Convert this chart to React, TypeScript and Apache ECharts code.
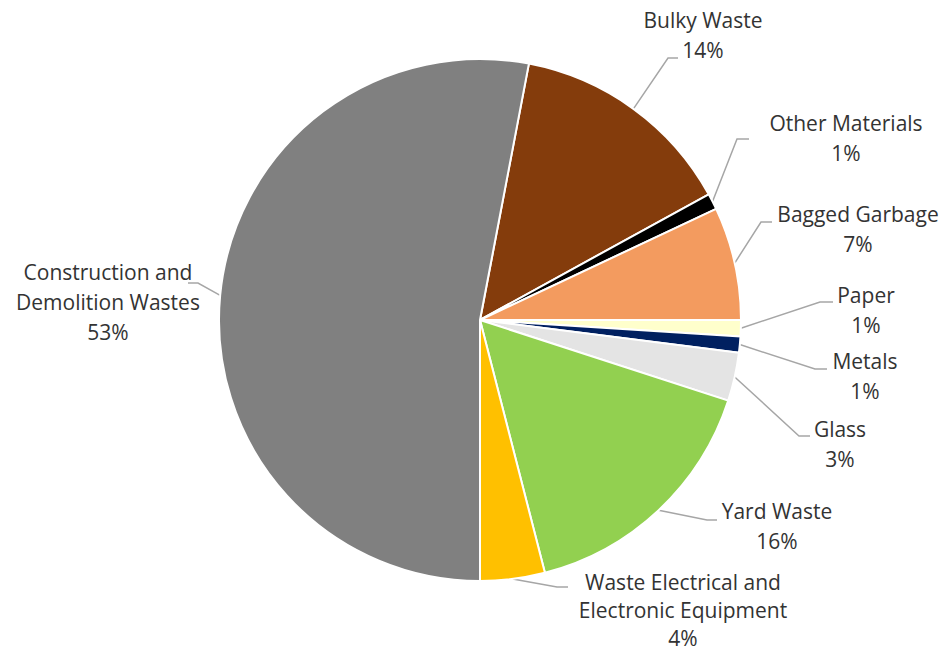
import React, { useEffect, useRef } from "react";
import * as echarts from "echarts";

// ---- Data ----
const categories = [
  "Bulky Waste",
  "Other Materials",
  "Bagged Garbage",
  "Paper",
  "Metals",
  "Glass",
  "Yard Waste",
  "Waste Electrical and Electronic Equipment",
  "Construction and Demolition Wastes",
];
const labelTexts = [
  "Bulky Waste",
  "Other Materials",
  "Bagged Garbage",
  "Paper",
  "Metals",
  "Glass",
  "Yard Waste",
  "Waste Electrical and\nElectronic Equipment",
  "Construction and\nDemolition Wastes",
];
const values = [14, 1, 7, 1, 1, 3, 16, 4, 53];

// ---- Styles ----
const colors = [
  "#843C0C",
  "#000000",
  "#F39B5F",
  "#FFFFCC",
  "#002060",
  "#E4E4E4",
  "#92D050",
  "#FFC000",
  "#808080",
];

// label placement: [centerX, topY, bend point, end point, lineHeight]
const labelPlacement: [number, number, number[], number[], number][] = [
  [703, 5, [668, 58], [678, 58], 30],
  [846, 108, [737, 139], [749, 139], 30],
  [858, 199, [761, 222], [772, 222], 30],
  [866, 280, [820, 302], [833, 302], 30],
  [865, 346, [815, 369], [827, 369], 30],
  [840, 414, [799, 436], [810, 436], 30],
  [777, 496, [707, 520], [717, 520], 30],
  [683, 568, [557, 587], [568, 587], 28],
  [108, 257, [198, 283], [188, 283], 30],
];

export default function App() {
  const ref = useRef<HTMLDivElement>(null);

  useEffect(() => {
    document.body.style.margin = "0";
    if (!ref.current) return;
    const chart = echarts.init(ref.current, undefined, { renderer: "svg" });
    chart.setOption({
      animation: false,
      backgroundColor: "#ffffff",
      series: [
        {
          type: "pie",
          center: [480, 320],
          radius: 261,
          startAngle: 79.2,
          clockwise: true,
          avoidLabelOverlap: false,
          itemStyle: { borderColor: "#ffffff", borderWidth: 2 },
          label: {
            show: true,
            position: "outside",
            fontFamily: "'Open Sans', Lato, sans-serif",
            fontSize: 21,
            lineHeight: 30,
            color: "#333333",
            align: "center",
            formatter: (p: any) =>
              labelTexts[p.dataIndex] + "\n" + Math.round(p.percent) + "%",
          },
          labelLine: {
            show: true,
            length: 20,
            length2: 10,
            lineStyle: { color: "#A6A6A6", width: 1.5 },
          },
          labelLayout: (params: any) => {
            const lp = labelPlacement[params.dataIndex];
            const pts = params.labelLinePoints;
            const start = pts && pts[0] ? pts[0] : lp[2];
            return {
              x: lp[0],
              y: lp[1],
              align: "center",
              verticalAlign: "top",
              labelLinePoints: [start, lp[2], lp[3]],
            };
          },
          data: categories.map((name, i) => ({
            name,
            value: values[i],
            itemStyle: { color: colors[i] },
            label: { lineHeight: labelPlacement[i][4] },
          })),
        },
      ],
    });
    return () => chart.dispose();
  }, []);

  return <div ref={ref} style={{ width: 943, height: 653 }} />;
}
